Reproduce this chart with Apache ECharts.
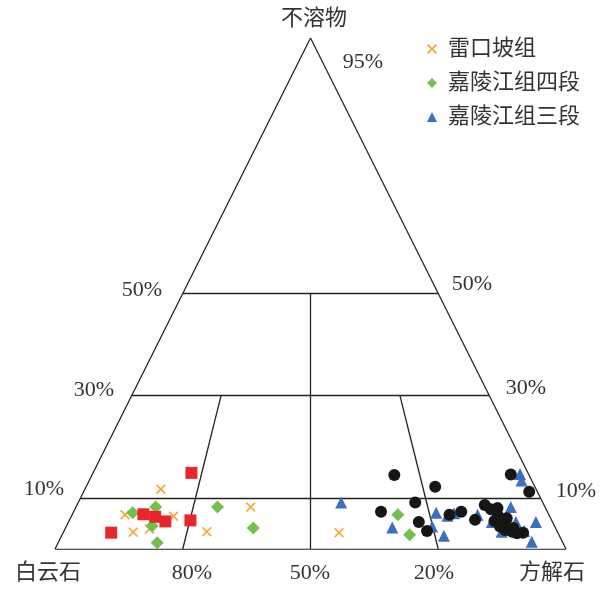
<!DOCTYPE html>
<html>
<head>
<meta charset="utf-8">
<script src="https://cdn.jsdelivr.net/npm/echarts@6/dist/echarts.min.js"></script>
<style>
  html, body { margin: 0; padding: 0; background: #fff; }
  #chart { width: 606px; height: 590px; }
</style>
</head>
<body>
<div id="chart"></div>
<script>
// 三角图坐标: [水平位置(0-100), 不溶物%]
const leikoupo = [
  [20.7, 11.7], [13.7, 6.7], [23.2, 6.4], [15.3, 3.3], [18.5, 3.9],
  [29.7, 3.4], [38.3, 8.2], [55.6, 3.2]
];
const jialing4 = [
  [19.7, 8.2], [15.2, 7.1], [19.0, 4.5], [20.0, 1.2], [31.8, 8.2],
  [38.8, 4.1], [67.1, 6.7], [69.4, 2.8]
];
const jialing3 = [
  [56.0, 9.1], [66.0, 4.2], [74.6, 7.1], [73.8, 4.4], [76.1, 2.6],
  [76.8, 6.5], [78.1, 7.0], [82.7, 6.7], [91.0, 14.7], [91.3, 13.4],
  [89.2, 8.2], [87.1, 6.7], [90.2, 5.3], [94.1, 5.3], [87.4, 3.4],
  [90.7, 3.4], [93.3, 1.4], [89.0, 4.4], [85.5, 5.3], [91.8, 3.5]
];
const redPts = [
  [26.7, 14.9], [17.3, 6.8], [19.6, 6.3], [21.6, 5.4], [26.5, 5.6], [11.0, 3.2]
];
const blackPts = [
  [66.4, 14.5], [74.4, 12.2], [89.2, 14.6], [92.8, 11.2], [70.5, 9.1],
  [63.8, 7.3], [71.2, 5.3], [72.8, 3.5], [77.2, 6.7], [79.5, 7.3],
  [82.2, 5.7], [84.1, 8.6], [85.3, 7.8], [86.6, 8.0], [86.0, 5.5],
  [88.4, 6.0], [87.1, 4.4], [88.1, 3.7], [89.4, 3.4], [90.4, 3.1],
  [91.6, 3.2], [89.7, 4.1], [87.7, 5.1], [86.7, 6.5]
];

// 框架线段
const frameLines = [
  [[0, 0], [100, 0]], [[100, 0], [50, 100]], [[50, 100], [0, 0]],
  [[5, 10], [95, 10]], [[15, 30], [85, 30]], [[25, 50], [75, 50]],
  [[50, 0], [50, 50]], [[25, 0], [32.5, 30]], [[75, 0], [67.5, 30]]
];

// 文字标注 [文字, x, y]
const labels = [
  ['不溶物', 314, 19], ['95%', 363, 62],
  ['50%', 142, 290], ['50%', 472, 284],
  ['30%', 94, 390], ['30%', 526, 388],
  ['10%', 44, 489], ['10%', 576, 491],
  ['白云石', 48, 573], ['80%', 192, 573], ['50%', 310, 573],
  ['20%', 434, 573], ['方解石', 552, 573]
];

const FONT = '"Liberation Serif", "Times New Roman", "Noto Sans CJK SC", serif';
const CROSS = 'path://M0,1.2L1.2,0L5,3.8L8.8,0L10,1.2L6.2,5L10,8.8L8.8,10L5,6.2L1.2,10L0,8.8L3.8,5Z';

const chart = echarts.init(document.getElementById('chart'));

const option = {
  animation: false,
  grid: { left: 55, right: 40, top: 38, bottom: 41 },
  xAxis: { type: 'value', min: 0, max: 100, show: false },
  yAxis: { type: 'value', min: 0, max: 100, show: false },
  legend: {
    data: ['雷口坡组', '嘉陵江组四段', '嘉陵江组三段'],
    orient: 'vertical',
    left: 422,
    top: 33,
    itemGap: 12,
    itemWidth: 10,
    itemHeight: 10,
    textStyle: { fontSize: 22, color: '#333', fontFamily: FONT, padding: [0, 0, 0, 6] }
  },
  graphic: labels.map(l => ({
    type: 'text',
    x: l[1],
    y: l[2],
    style: {
      text: l[0],
      fontSize: 22,
      fontFamily: FONT,
      fill: '#333',
      textAlign: 'center',
      textVerticalAlign: 'middle'
    }
  })),
  series: [
    {
      type: 'lines',
      coordinateSystem: 'cartesian2d',
      data: frameLines.map(c => ({ coords: c })),
      lineStyle: { color: '#222', width: 1.3, opacity: 1 },
      symbol: 'none',
      silent: true,
      z: 1
    },
    {
      name: '雷口坡组',
      type: 'scatter',
      data: leikoupo,
      symbol: CROSS,
      symbolSize: 10,
      itemStyle: { color: '#f5a92e', opacity: 1 }
    },
    {
      name: '嘉陵江组四段',
      type: 'scatter',
      data: jialing4,
      symbol: 'diamond',
      symbolSize: 13,
      itemStyle: { color: '#73c04d', opacity: 1 }
    },
    {
      name: '嘉陵江组三段',
      type: 'scatter',
      data: jialing3,
      symbol: 'triangle',
      symbolSize: 12,
      itemStyle: { color: '#3b6fc0', opacity: 1 }
    },
    {
      name: 'red',
      type: 'scatter',
      data: redPts,
      symbol: 'rect',
      symbolSize: 12,
      itemStyle: { color: '#e8262b', opacity: 1 }
    },
    {
      name: 'black',
      type: 'scatter',
      data: blackPts,
      symbol: 'circle',
      symbolSize: 12,
      itemStyle: { color: '#161616', opacity: 1 }
    }
  ]
};

chart.setOption(option);
</script>
</body>
</html>
